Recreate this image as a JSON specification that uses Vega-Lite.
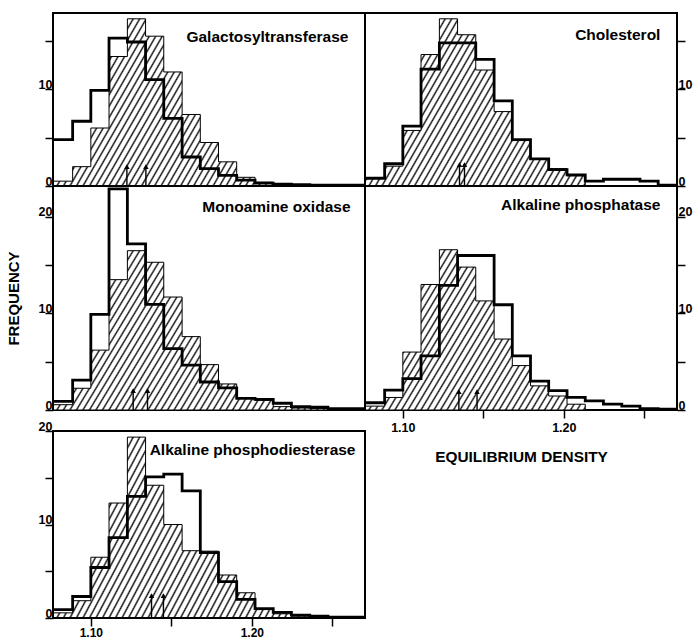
{
  "$schema": "https://vega.github.io/schema/vega-lite/v6.json",
  "background": "white",
  "padding": {"left": 5, "top": 12, "right": 0, "bottom": 0},
  "bounds": "flush",
  "columns": 2,
  "spacing": 0,
  "datasets": {
    "gt": [
      {"x": 1.0768, "h": 0.5, "o": 4.8}, {"x": 1.0887, "h": 2.0, "o": 6.7}, {"x": 1.1, "h": 6.0, "o": 9.9},
      {"x": 1.1113, "h": 13.4, "o": 15.3}, {"x": 1.1227, "h": 17.3, "o": 14.9}, {"x": 1.134, "h": 15.5, "o": 11.0},
      {"x": 1.1453, "h": 11.8, "o": 7.0}, {"x": 1.1567, "h": 7.4, "o": 3.0}, {"x": 1.168, "h": 4.5, "o": 1.8},
      {"x": 1.1793, "h": 2.5, "o": 1.1}, {"x": 1.1906, "h": 0.9, "o": 0.6}, {"x": 1.202, "h": 0.4, "o": 0.3},
      {"x": 1.2133, "h": 0.2, "o": 0.2}, {"x": 1.2246, "h": 0.1, "o": 0.15}, {"x": 1.236, "h": 0.1, "o": 0.1},
      {"x": 1.2473, "h": 0, "o": 0.1}, {"x": 1.2586, "h": 0, "o": 0.1}, {"x": 1.2699, "h": 0, "o": 0.1}
    ],
    "ch": [
      {"x": 1.0768, "h": 0.8, "o": 0.8}, {"x": 1.0887, "h": 2.05, "o": 2.3}, {"x": 1.1, "h": 5.75, "o": 6.2},
      {"x": 1.1113, "h": 13.6, "o": 12.1}, {"x": 1.1227, "h": 17.3, "o": 14.8}, {"x": 1.134, "h": 15.65, "o": 14.8},
      {"x": 1.1453, "h": 12.0, "o": 13.1}, {"x": 1.1567, "h": 7.7, "o": 8.8}, {"x": 1.168, "h": 4.7, "o": 4.8},
      {"x": 1.1793, "h": 2.8, "o": 2.8}, {"x": 1.1906, "h": 1.8, "o": 1.7}, {"x": 1.202, "h": 1.05, "o": 1.15},
      {"x": 1.2133, "h": 0, "o": 0.5}, {"x": 1.2246, "h": 0, "o": 0.7}, {"x": 1.236, "h": 0, "o": 0.7},
      {"x": 1.2473, "h": 0, "o": 0.5}, {"x": 1.2586, "h": 0, "o": 0.1}, {"x": 1.2699, "h": 0, "o": 0.1}
    ],
    "mao": [
      {"x": 1.0768, "h": 0.55, "o": 0.9}, {"x": 1.0887, "h": 2.25, "o": 3.1}, {"x": 1.1, "h": 6.2, "o": 9.9},
      {"x": 1.1113, "h": 13.5, "o": 22.9}, {"x": 1.1227, "h": 16.5, "o": 17.2}, {"x": 1.134, "h": 15.3, "o": 10.95},
      {"x": 1.1453, "h": 11.7, "o": 6.35}, {"x": 1.1567, "h": 7.6, "o": 4.65}, {"x": 1.168, "h": 4.7, "o": 2.9},
      {"x": 1.1793, "h": 2.7, "o": 2.3}, {"x": 1.1906, "h": 1.25, "o": 1.2}, {"x": 1.202, "h": 1.0, "o": 1.1},
      {"x": 1.2133, "h": 0.35, "o": 0.7}, {"x": 1.2246, "h": 0.2, "o": 0.35}, {"x": 1.236, "h": 0.15, "o": 0.3},
      {"x": 1.2473, "h": 0.1, "o": 0.15}, {"x": 1.2586, "h": 0.1, "o": 0.15}, {"x": 1.2699, "h": 0.1, "o": 0.15}
    ],
    "ap": [
      {"x": 1.0768, "h": 0.4, "o": 0.75}, {"x": 1.0887, "h": 1.3, "o": 2.05}, {"x": 1.1, "h": 6.0, "o": 3.25},
      {"x": 1.1113, "h": 13.0, "o": 5.6}, {"x": 1.1227, "h": 16.6, "o": 12.9}, {"x": 1.134, "h": 14.8, "o": 16.0},
      {"x": 1.1453, "h": 11.3, "o": 16.0}, {"x": 1.1567, "h": 7.35, "o": 10.9}, {"x": 1.168, "h": 4.6, "o": 5.6},
      {"x": 1.1793, "h": 2.5, "o": 3.0}, {"x": 1.1906, "h": 1.45, "o": 2.0}, {"x": 1.202, "h": 0.6, "o": 1.3},
      {"x": 1.2133, "h": 0, "o": 0.95}, {"x": 1.2246, "h": 0, "o": 0.6}, {"x": 1.236, "h": 0, "o": 0.4},
      {"x": 1.2473, "h": 0, "o": 0.15}, {"x": 1.2586, "h": 0, "o": 0.1}, {"x": 1.2699, "h": 0, "o": 0.1}
    ],
    "apd": [
      {"x": 1.0768, "h": 0.55, "o": 0.9}, {"x": 1.0887, "h": 1.85, "o": 2.3}, {"x": 1.1, "h": 6.5, "o": 5.4},
      {"x": 1.1113, "h": 12.3, "o": 8.6}, {"x": 1.1227, "h": 19.35, "o": 13.0}, {"x": 1.134, "h": 14.2, "o": 15.1},
      {"x": 1.1453, "h": 10.0, "o": 15.4}, {"x": 1.1567, "h": 7.2, "o": 13.6}, {"x": 1.168, "h": 7.15, "o": 7.0},
      {"x": 1.1793, "h": 4.6, "o": 3.9}, {"x": 1.1906, "h": 2.7, "o": 2.0}, {"x": 1.202, "h": 0.9, "o": 1.0},
      {"x": 1.2133, "h": 0.45, "o": 0.6}, {"x": 1.2246, "h": 0.2, "o": 0.3}, {"x": 1.236, "h": 0.1, "o": 0.2},
      {"x": 1.2473, "h": 0.05, "o": 0.1}, {"x": 1.2586, "h": 0, "o": 0.1}, {"x": 1.2699, "h": 0, "o": 0.1}
    ],
    "arrows": [
      {"panel": "gt", "x": 1.1224}, {"panel": "gt", "x": 1.1342},
      {"panel": "ch", "x": 1.1352}, {"panel": "ch", "x": 1.1383},
      {"panel": "mao", "x": 1.1263}, {"panel": "mao", "x": 1.1352},
      {"panel": "ap", "x": 1.1348}, {"panel": "ap", "x": 1.1461},
      {"panel": "apd", "x": 1.1377}, {"panel": "apd", "x": 1.1451}
    ]
  },
  "concat": [
    {
      "width": 312, "height": 173,
      "layer": [
        {"data": {"name": "gt"},
         "mark": {"type": "area", "interpolate": "step-after", "style": "hatch", "stroke": "black", "strokeWidth": 1},
         "encoding": {
           "x": {"field": "x", "type": "quantitative", "scale": {"domain": [1.0765, 1.2703], "nice": false, "zero": false}, "axis": null},
           "y": {"field": "h", "type": "quantitative", "scale": {"domain": [0, 17.9], "nice": false}, "axis": {"orient": "left", "values": [0, 5, 10, 15], "labelExpr": "datum.value % 10 === 0 ? datum.label : ''", "title": null}}
         }},
        {"data": {"name": "gt"},
         "mark": {"type": "line", "interpolate": "step-after", "color": "black", "strokeWidth": 2.8},
         "encoding": {"x": {"field": "x", "type": "quantitative", "axis": null}, "y": {"field": "o", "type": "quantitative"}}},
        {"data": {"name": "arrows"}, "transform": [{"filter": "datum.panel === 'gt'"}],
         "mark": {"type": "rule", "color": "black", "strokeWidth": 1.4},
         "encoding": {"x": {"field": "x", "type": "quantitative", "axis": null}, "y": {"datum": 0}, "y2": {"datum": 2.1}}},
        {"data": {"name": "arrows"}, "transform": [{"filter": "datum.panel === 'gt'"}],
         "mark": {"type": "point", "shape": "triangle-up", "filled": true, "color": "black", "opacity": 1, "size": 30},
         "encoding": {"x": {"field": "x", "type": "quantitative", "axis": null}, "y": {"datum": 2.0}}},
        {"data": {"values": [{"name": "Galactosyltransferase"}]},
         "mark": {"type": "text", "align": "right", "baseline": "alphabetic", "font": "Liberation Sans", "fontSize": 15.5, "fontWeight": "bold", "color": "black"},
         "encoding": {"x": {"datum": 1.26, "axis": null}, "y": {"datum": 14.9}, "text": {"field": "name"}}}
      ]
    },
    {
      "width": 312, "height": 173,
      "layer": [
        {"data": {"name": "ch"},
         "mark": {"type": "area", "interpolate": "step-after", "style": "hatch", "stroke": "black", "strokeWidth": 1},
         "encoding": {
           "x": {"field": "x", "type": "quantitative", "scale": {"domain": [1.0765, 1.2703], "nice": false, "zero": false}, "axis": null},
           "y": {"field": "h", "type": "quantitative", "scale": {"domain": [0, 17.9], "nice": false}, "axis": {"orient": "right", "values": [0, 5, 10, 15], "labelExpr": "datum.value % 10 === 0 ? datum.label : ''", "title": null}}
         }},
        {"data": {"name": "ch"},
         "mark": {"type": "line", "interpolate": "step-after", "color": "black", "strokeWidth": 2.8},
         "encoding": {"x": {"field": "x", "type": "quantitative", "axis": null}, "y": {"field": "o", "type": "quantitative"}}},
        {"data": {"name": "arrows"}, "transform": [{"filter": "datum.panel === 'ch'"}],
         "mark": {"type": "rule", "color": "black", "strokeWidth": 1.4},
         "encoding": {"x": {"field": "x", "type": "quantitative", "axis": null}, "y": {"datum": 0}, "y2": {"datum": 2.3}}},
        {"data": {"name": "arrows"}, "transform": [{"filter": "datum.panel === 'ch'"}],
         "mark": {"type": "point", "shape": "triangle-up", "filled": true, "color": "black", "opacity": 1, "size": 30},
         "encoding": {"x": {"field": "x", "type": "quantitative", "axis": null}, "y": {"datum": 2.2}}},
        {"data": {"values": [{"name": "Cholesterol"}]},
         "mark": {"type": "text", "align": "right", "baseline": "alphabetic", "font": "Liberation Sans", "fontSize": 15.5, "fontWeight": "bold", "color": "black"},
         "encoding": {"x": {"datum": 1.26, "axis": null}, "y": {"datum": 15.1}, "text": {"field": "name"}}}
      ]
    },
    {
      "width": 312, "height": 224,
      "layer": [
        {"data": {"name": "mao"},
         "mark": {"type": "area", "interpolate": "step-after", "style": "hatch", "stroke": "black", "strokeWidth": 1},
         "encoding": {
           "x": {"field": "x", "type": "quantitative", "scale": {"domain": [1.0765, 1.2703], "nice": false, "zero": false}, "axis": null},
           "y": {"field": "h", "type": "quantitative", "scale": {"domain": [0, 23.2], "nice": false}, "axis": {"orient": "left", "values": [0, 5, 10, 15, 20], "labelExpr": "datum.value % 10 === 0 ? datum.label : ''", "title": "FREQUENCY", "titleX": -40, "titleBaseline": "middle", "titleFontSize": 15}}
         }},
        {"data": {"name": "mao"},
         "mark": {"type": "line", "interpolate": "step-after", "color": "black", "strokeWidth": 2.8},
         "encoding": {"x": {"field": "x", "type": "quantitative", "axis": null}, "y": {"field": "o", "type": "quantitative"}}},
        {"data": {"name": "arrows"}, "transform": [{"filter": "datum.panel === 'mao'"}],
         "mark": {"type": "rule", "color": "black", "strokeWidth": 1.4},
         "encoding": {"x": {"field": "x", "type": "quantitative", "axis": null}, "y": {"datum": 0}, "y2": {"datum": 2.1}}},
        {"data": {"name": "arrows"}, "transform": [{"filter": "datum.panel === 'mao'"}],
         "mark": {"type": "point", "shape": "triangle-up", "filled": true, "color": "black", "opacity": 1, "size": 30},
         "encoding": {"x": {"field": "x", "type": "quantitative", "axis": null}, "y": {"datum": 2.0}}},
        {"data": {"values": [{"name": "Monoamine oxidase"}]},
         "mark": {"type": "text", "align": "right", "baseline": "alphabetic", "font": "Liberation Sans", "fontSize": 15.5, "fontWeight": "bold", "color": "black"},
         "encoding": {"x": {"datum": 1.2613, "axis": null}, "y": {"datum": 20.5}, "text": {"field": "name"}}}
      ]
    },
    {
      "width": 312, "height": 224,
      "layer": [
        {"data": {"name": "ap"},
         "mark": {"type": "area", "interpolate": "step-after", "style": "hatch", "stroke": "black", "strokeWidth": 1},
         "encoding": {
           "x": {"field": "x", "type": "quantitative", "scale": {"domain": [1.0765, 1.2703], "nice": false, "zero": false}, "axis": {"orient": "bottom", "values": [1.1, 1.15, 1.2, 1.25], "format": ".2f", "labelExpr": "datum.value === 1.1 || datum.value === 1.2 ? datum.label : ''", "title": "EQUILIBRIUM DENSITY", "titleY": 51, "titleBaseline": "alphabetic", "titleFontSize": 15.4, "labelPadding": 3}},
           "y": {"field": "h", "type": "quantitative", "scale": {"domain": [0, 23.2], "nice": false}, "axis": {"orient": "right", "values": [0, 5, 10, 15, 20], "labelExpr": "datum.value % 10 === 0 ? datum.label : ''", "title": null}}
         }},
        {"data": {"name": "ap"},
         "mark": {"type": "line", "interpolate": "step-after", "color": "black", "strokeWidth": 2.8},
         "encoding": {"x": {"field": "x", "type": "quantitative"}, "y": {"field": "o", "type": "quantitative"}}},
        {"data": {"name": "arrows"}, "transform": [{"filter": "datum.panel === 'ap'"}],
         "mark": {"type": "rule", "color": "black", "strokeWidth": 1.4},
         "encoding": {"x": {"field": "x", "type": "quantitative"}, "y": {"datum": 0}, "y2": {"datum": 2.0}}},
        {"data": {"name": "arrows"}, "transform": [{"filter": "datum.panel === 'ap'"}],
         "mark": {"type": "point", "shape": "triangle-up", "filled": true, "color": "black", "opacity": 1, "size": 30},
         "encoding": {"x": {"field": "x", "type": "quantitative"}, "y": {"datum": 1.9}}},
        {"data": {"values": [{"name": "Alkaline phosphatase"}]},
         "mark": {"type": "text", "align": "right", "baseline": "alphabetic", "font": "Liberation Sans", "fontSize": 15.5, "fontWeight": "bold", "color": "black"},
         "encoding": {"x": {"datum": 1.26}, "y": {"datum": 20.7}, "text": {"field": "name"}}}
      ]
    },
    {
      "width": 312, "height": 208,
      "view": {"stroke": null},
      "layer": [
        {"data": {"name": "apd"},
         "mark": {"type": "area", "interpolate": "step-after", "style": "hatch", "stroke": "black", "strokeWidth": 1},
         "encoding": {
           "x": {"field": "x", "type": "quantitative", "scale": {"domain": [1.0765, 1.2703], "nice": false, "zero": false}, "axis": {"orient": "bottom", "values": [1.1, 1.15, 1.2, 1.25], "format": ".2f", "labelExpr": "datum.value === 1.1 || datum.value === 1.2 ? datum.label : ''", "title": null, "labelPadding": 1, "labelFontSize": 12}},
           "y": {"field": "h", "type": "quantitative", "scale": {"domain": [0, 22.25], "nice": false}, "axis": {"orient": "left", "values": [0, 5, 10, 15, 20], "labelExpr": "datum.value % 10 === 0 ? datum.label : ''", "title": null}}
         }},
        {"data": {"name": "apd"},
         "mark": {"type": "line", "interpolate": "step-after", "color": "black", "strokeWidth": 2.8},
         "encoding": {"x": {"field": "x", "type": "quantitative"}, "y": {"field": "o", "type": "quantitative"}}},
        {"data": {"name": "arrows"}, "transform": [{"filter": "datum.panel === 'apd'"}],
         "mark": {"type": "rule", "color": "black", "strokeWidth": 1.4},
         "encoding": {"x": {"field": "x", "type": "quantitative"}, "y": {"datum": 0}, "y2": {"datum": 2.5}}},
        {"data": {"name": "arrows"}, "transform": [{"filter": "datum.panel === 'apd'"}],
         "mark": {"type": "point", "shape": "triangle-up", "filled": true, "color": "black", "opacity": 1, "size": 30},
         "encoding": {"x": {"field": "x", "type": "quantitative"}, "y": {"datum": 2.4}}},
        {"data": {"values": [{"name": "frame"}]},
         "mark": {"type": "rect", "filled": false, "color": "black", "strokeWidth": 2},
         "encoding": {"x": {"datum": 1.0765}, "x2": {"datum": 1.2703}, "y": {"datum": 0}, "y2": {"datum": 20}}},
        {"data": {"values": [{"name": "Alkaline phosphodiesterase"}]},
         "mark": {"type": "text", "align": "right", "baseline": "alphabetic", "font": "Liberation Sans", "fontSize": 15.5, "fontWeight": "bold", "color": "black"},
         "encoding": {"x": {"datum": 1.2644}, "y": {"datum": 17.4}, "text": {"field": "name"}}}
      ]
    }
  ],
  "config": {
    "view": {"stroke": "black", "strokeWidth": 2},
    "font": "Liberation Sans",
    "axis": {
      "domain": false, "grid": false, "ticks": true, "tickColor": "black", "tickWidth": 1.5, "tickSize": 8,
      "labelFont": "Liberation Sans", "labelFontWeight": "bold", "labelFontSize": 12.5, "labelColor": "black",
      "labelFlush": false, "labelOverlap": false,
      "titleFont": "Liberation Sans", "titleFontWeight": "bold", "titleColor": "black"
    },
    "axisLeft": {"labelPadding": -7, "labelBaseline": "alphabetic", "labelAlign": "right", "labelOffset": -1},
    "axisRight": {"labelPadding": -7, "labelBaseline": "alphabetic", "labelAlign": "left", "labelOffset": -1},
    "axisBottom": {"labelBaseline": "top"},
    "style": {
      "hatch": {
        "color": {
          "gradient": "linear", "x1": 0, "y1": 0, "x2": 1.1947, "y2": 0.3682,
          "stops": [
            {"offset": 0, "color": "#fff"}, {"offset": 0.004, "color": "#111"}, {"offset": 0.008, "color": "#fff"},
            {"offset": 0.016, "color": "#fff"}, {"offset": 0.02, "color": "#111"}, {"offset": 0.024, "color": "#fff"},
            {"offset": 0.032, "color": "#fff"}, {"offset": 0.036, "color": "#111"}, {"offset": 0.04, "color": "#fff"},
            {"offset": 0.048, "color": "#fff"}, {"offset": 0.052, "color": "#111"}, {"offset": 0.056, "color": "#fff"},
            {"offset": 0.064, "color": "#fff"}, {"offset": 0.068, "color": "#111"}, {"offset": 0.072, "color": "#fff"},
            {"offset": 0.08, "color": "#fff"}, {"offset": 0.084, "color": "#111"}, {"offset": 0.088, "color": "#fff"},
            {"offset": 0.096, "color": "#fff"}, {"offset": 0.1, "color": "#111"}, {"offset": 0.104, "color": "#fff"},
            {"offset": 0.112, "color": "#fff"}, {"offset": 0.116, "color": "#111"}, {"offset": 0.12, "color": "#fff"},
            {"offset": 0.128, "color": "#fff"}, {"offset": 0.132, "color": "#111"}, {"offset": 0.136, "color": "#fff"},
            {"offset": 0.144, "color": "#fff"}, {"offset": 0.148, "color": "#111"}, {"offset": 0.152, "color": "#fff"},
            {"offset": 0.16, "color": "#fff"}, {"offset": 0.164, "color": "#111"}, {"offset": 0.168, "color": "#fff"},
            {"offset": 0.176, "color": "#fff"}, {"offset": 0.18, "color": "#111"}, {"offset": 0.184, "color": "#fff"},
            {"offset": 0.192, "color": "#fff"}, {"offset": 0.196, "color": "#111"}, {"offset": 0.2, "color": "#fff"},
            {"offset": 0.208, "color": "#fff"}, {"offset": 0.212, "color": "#111"}, {"offset": 0.216, "color": "#fff"},
            {"offset": 0.224, "color": "#fff"}, {"offset": 0.228, "color": "#111"}, {"offset": 0.232, "color": "#fff"},
            {"offset": 0.24, "color": "#fff"}, {"offset": 0.244, "color": "#111"}, {"offset": 0.248, "color": "#fff"},
            {"offset": 0.256, "color": "#fff"}, {"offset": 0.26, "color": "#111"}, {"offset": 0.264, "color": "#fff"},
            {"offset": 0.272, "color": "#fff"}, {"offset": 0.276, "color": "#111"}, {"offset": 0.28, "color": "#fff"},
            {"offset": 0.288, "color": "#fff"}, {"offset": 0.292, "color": "#111"}, {"offset": 0.296, "color": "#fff"},
            {"offset": 0.304, "color": "#fff"}, {"offset": 0.308, "color": "#111"}, {"offset": 0.312, "color": "#fff"},
            {"offset": 0.32, "color": "#fff"}, {"offset": 0.324, "color": "#111"}, {"offset": 0.328, "color": "#fff"},
            {"offset": 0.336, "color": "#fff"}, {"offset": 0.34, "color": "#111"}, {"offset": 0.344, "color": "#fff"},
            {"offset": 0.352, "color": "#fff"}, {"offset": 0.356, "color": "#111"}, {"offset": 0.36, "color": "#fff"},
            {"offset": 0.368, "color": "#fff"}, {"offset": 0.372, "color": "#111"}, {"offset": 0.376, "color": "#fff"},
            {"offset": 0.384, "color": "#fff"}, {"offset": 0.388, "color": "#111"}, {"offset": 0.392, "color": "#fff"},
            {"offset": 0.4, "color": "#fff"}, {"offset": 0.404, "color": "#111"}, {"offset": 0.408, "color": "#fff"},
            {"offset": 0.416, "color": "#fff"}, {"offset": 0.42, "color": "#111"}, {"offset": 0.424, "color": "#fff"},
            {"offset": 0.432, "color": "#fff"}, {"offset": 0.436, "color": "#111"}, {"offset": 0.44, "color": "#fff"},
            {"offset": 0.448, "color": "#fff"}, {"offset": 0.452, "color": "#111"}, {"offset": 0.456, "color": "#fff"},
            {"offset": 0.464, "color": "#fff"}, {"offset": 0.468, "color": "#111"}, {"offset": 0.472, "color": "#fff"},
            {"offset": 0.48, "color": "#fff"}, {"offset": 0.484, "color": "#111"}, {"offset": 0.488, "color": "#fff"},
            {"offset": 0.496, "color": "#fff"}, {"offset": 0.5, "color": "#111"}, {"offset": 0.504, "color": "#fff"},
            {"offset": 0.512, "color": "#fff"}, {"offset": 0.516, "color": "#111"}, {"offset": 0.52, "color": "#fff"},
            {"offset": 0.528, "color": "#fff"}, {"offset": 0.532, "color": "#111"}, {"offset": 0.536, "color": "#fff"},
            {"offset": 0.544, "color": "#fff"}, {"offset": 0.548, "color": "#111"}, {"offset": 0.552, "color": "#fff"},
            {"offset": 0.56, "color": "#fff"}, {"offset": 0.564, "color": "#111"}, {"offset": 0.568, "color": "#fff"},
            {"offset": 0.576, "color": "#fff"}, {"offset": 0.58, "color": "#111"}, {"offset": 0.584, "color": "#fff"},
            {"offset": 0.592, "color": "#fff"}, {"offset": 0.596, "color": "#111"}, {"offset": 0.6, "color": "#fff"},
            {"offset": 0.608, "color": "#fff"}, {"offset": 0.612, "color": "#111"}, {"offset": 0.616, "color": "#fff"},
            {"offset": 0.624, "color": "#fff"}, {"offset": 0.628, "color": "#111"}, {"offset": 0.632, "color": "#fff"},
            {"offset": 0.64, "color": "#fff"}, {"offset": 0.644, "color": "#111"}, {"offset": 0.648, "color": "#fff"},
            {"offset": 0.656, "color": "#fff"}, {"offset": 0.66, "color": "#111"}, {"offset": 0.664, "color": "#fff"},
            {"offset": 0.672, "color": "#fff"}, {"offset": 0.676, "color": "#111"}, {"offset": 0.68, "color": "#fff"},
            {"offset": 0.688, "color": "#fff"}, {"offset": 0.692, "color": "#111"}, {"offset": 0.696, "color": "#fff"},
            {"offset": 0.704, "color": "#fff"}, {"offset": 0.708, "color": "#111"}, {"offset": 0.712, "color": "#fff"},
            {"offset": 0.72, "color": "#fff"}, {"offset": 0.724, "color": "#111"}, {"offset": 0.728, "color": "#fff"},
            {"offset": 0.736, "color": "#fff"}, {"offset": 0.74, "color": "#111"}, {"offset": 0.744, "color": "#fff"},
            {"offset": 0.752, "color": "#fff"}, {"offset": 0.756, "color": "#111"}, {"offset": 0.76, "color": "#fff"},
            {"offset": 0.768, "color": "#fff"}, {"offset": 0.772, "color": "#111"}, {"offset": 0.776, "color": "#fff"},
            {"offset": 0.784, "color": "#fff"}, {"offset": 0.788, "color": "#111"}, {"offset": 0.792, "color": "#fff"},
            {"offset": 0.8, "color": "#fff"}, {"offset": 0.804, "color": "#111"}, {"offset": 0.808, "color": "#fff"},
            {"offset": 0.816, "color": "#fff"}, {"offset": 0.82, "color": "#111"}, {"offset": 0.824, "color": "#fff"},
            {"offset": 0.832, "color": "#fff"}, {"offset": 0.836, "color": "#111"}, {"offset": 0.84, "color": "#fff"},
            {"offset": 0.848, "color": "#fff"}, {"offset": 0.852, "color": "#111"}, {"offset": 0.856, "color": "#fff"},
            {"offset": 0.864, "color": "#fff"}, {"offset": 0.868, "color": "#111"}, {"offset": 0.872, "color": "#fff"},
            {"offset": 0.88, "color": "#fff"}, {"offset": 0.884, "color": "#111"}, {"offset": 0.888, "color": "#fff"},
            {"offset": 0.896, "color": "#fff"}, {"offset": 0.9, "color": "#111"}, {"offset": 0.904, "color": "#fff"},
            {"offset": 0.912, "color": "#fff"}, {"offset": 0.916, "color": "#111"}, {"offset": 0.92, "color": "#fff"},
            {"offset": 0.928, "color": "#fff"}, {"offset": 0.932, "color": "#111"}, {"offset": 0.936, "color": "#fff"},
            {"offset": 0.944, "color": "#fff"}, {"offset": 0.948, "color": "#111"}, {"offset": 0.952, "color": "#fff"},
            {"offset": 0.96, "color": "#fff"}, {"offset": 0.964, "color": "#111"}, {"offset": 0.968, "color": "#fff"},
            {"offset": 0.976, "color": "#fff"}, {"offset": 0.98, "color": "#111"}, {"offset": 0.984, "color": "#fff"},
            {"offset": 0.992, "color": "#fff"}, {"offset": 0.996, "color": "#111"}, {"offset": 1, "color": "#fff"}
          ]
        }
      }
    }
  }
}
